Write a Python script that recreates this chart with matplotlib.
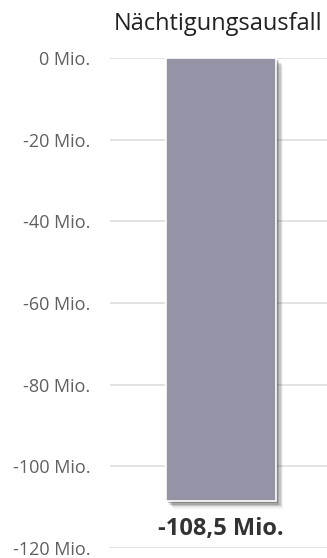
import matplotlib.pyplot as plt
import matplotlib.patheffects as pe
from matplotlib.ticker import FuncFormatter

plt.rcParams['font.family'] = ['Open Sans', 'DejaVu Sans']

categories = ['Nächtigungsausfall']
values = [-108.5]
value_labels = ['-108,5 Mio.']
yticks = [0, -20, -40, -60, -80, -100, -120]

fig = plt.figure(figsize=(3.27, 5.58), dpi=100)
ax = fig.add_axes([110 / 327, 10 / 558, 217 / 327, 490 / 558])

bars = ax.bar([0], values, width=0.507, color='#9594a7', edgecolor='white',
              linewidth=1.2, zorder=3)
# soft drop shadow, built from a few offset layers
shadow = [pe.SimplePatchShadow(offset=(d, -d), shadow_rgbFace='#333333', alpha=a)
          for d, a in ((1.5, 0.25), (2.5, 0.2), (3.5, 0.16), (4.5, 0.1), (5.5, 0.06))]
for b in bars:
    b.set_path_effects(shadow + [pe.Normal()])

ax.set_xlim(-0.51, 0.49)
ax.set_ylim(-120, 0)
ax.set_yticks(yticks)
ax.yaxis.set_major_formatter(FuncFormatter(lambda v, p: f'{int(v)} Mio.'))
ax.tick_params(axis='y', length=0, pad=14, labelsize=13, labelcolor='#606060')
ax.set_xticks([])
ax.grid(axis='y', color='#e0e0e0', linewidth=1.3, zorder=0)
for s in ax.spines.values():
    s.set_visible(False)

ax.set_title(categories[0], fontsize=17, color='#222222', pad=20)

for b, v, lab in zip(bars, values, value_labels):
    ax.text(b.get_x() + b.get_width() / 2, v - 3.8, lab, ha='center', va='top',
            fontsize=17, fontweight='bold', color='#333333', zorder=4)

fig.savefig('out.png', dpi=100)
